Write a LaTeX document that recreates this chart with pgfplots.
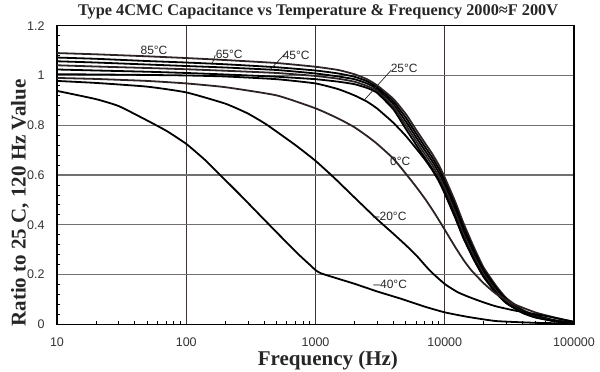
\documentclass[border=0pt]{standalone}
\usepackage{fontspec}
\setmainfont{Liberation Serif}
\newfontfamily\arial{Liberation Sans}
\usepackage{pgfplots}
\pgfplotsset{compat=1.18}
\definecolor{curvec}{RGB}{45,35,35}
\definecolor{xgridc}{RGB}{60,50,50}
\definecolor{ygridc}{RGB}{112,112,112}
\begin{document}
\begin{tikzpicture}
\path[use as bounding box] (-57pt,-47.7pt) rectangle (543pt,324.3pt);
\begin{axis}[
  at={(0,0)}, anchor=south west,
  scale only axis, width=517pt, height=298.6pt,
  xmode=log, xmin=10, xmax=100000, ymin=0, ymax=1.2,
  xtick={10,100,1000,10000,100000},
  xticklabels={10,100,1000,10000,100000},
  minor xtick={20,30,40,50,60,70,80,90,200,300,400,500,600,700,800,900,2000,3000,4000,5000,6000,7000,8000,9000,20000,30000,40000,50000,60000,70000,80000,90000},
  ytick={0,0.2,0.4,0.6,0.8,1,1.2},
  yticklabels={0,0.2,0.4,0.6,0.8,1,1.2},
  minor ytick={0.04,0.08,0.12,0.16,0.24,0.28,0.32,0.36,0.44,0.48,0.52,0.56,0.64,0.68,0.72,0.76,0.84,0.88,0.92,0.96,1.04,1.08,1.12,1.16},
  tick pos=left, tick align=inside,
  major tick length=0pt, minor tick length=3.5pt,
  minor tick style={line width=0.8pt, black},
  xmajorgrids, ymajorgrids,
  x grid style={xgridc, line width=1.1pt},
  y grid style={ygridc, line width=1.1pt},
  axis line style={line width=1.5pt, black},
  ticklabel style={font=\arial\fontsize{12.5}{14}\selectfont, text=black!80},
  xticklabel style={yshift=-10pt},
  yticklabel style={xshift=-9pt},
  clip=false,
  cycle list={{curvec, solid, mark=none}},
  every axis plot/.append style={line width=1.8pt, smooth, tension=0.3},
]
% 85
\addplot coordinates {(10,1.090)(20,1.085)(50,1.077)(100,1.070)(200,1.062)(500,1.050)(1000,1.035)(1500,1.022)(2000,1.005)(2500,0.985)(3000,0.960)(4000,0.906)(5000,0.845)(6000,0.782)(7000,0.730)(8000,0.685)(9000,0.640)(10000,0.590)(12000,0.495)(14000,0.405)(17000,0.304)(20000,0.228)(25000,0.154)(30000,0.105)(40000,0.058)(50000,0.037)(70000,0.017)(100000,0.005)};
% 65
\addplot coordinates {(10,1.072)(20,1.067)(50,1.058)(100,1.052)(200,1.045)(500,1.033)(1000,1.020)(1500,1.008)(2000,0.995)(2500,0.977)(3000,0.952)(4000,0.896)(5000,0.830)(6000,0.767)(7000,0.715)(8000,0.670)(9000,0.625)(10000,0.575)(12000,0.480)(14000,0.390)(17000,0.292)(20000,0.219)(25000,0.147)(30000,0.100)(40000,0.055)(50000,0.034)(70000,0.016)(100000,0.005)};
% 45
\addplot coordinates {(10,1.057)(20,1.052)(50,1.044)(100,1.038)(200,1.032)(500,1.022)(1000,1.008)(1500,0.996)(2000,0.985)(2500,0.968)(3000,0.945)(4000,0.885)(5000,0.815)(6000,0.752)(7000,0.700)(8000,0.655)(9000,0.610)(10000,0.560)(12000,0.465)(14000,0.375)(17000,0.280)(20000,0.210)(25000,0.140)(30000,0.095)(40000,0.052)(50000,0.032)(70000,0.015)(100000,0.005)};
% unlabeled
\addplot coordinates {(10,1.041)(20,1.036)(50,1.030)(100,1.025)(200,1.019)(500,1.010)(1000,0.998)(1500,0.987)(2000,0.975)(2500,0.958)(3000,0.937)(4000,0.874)(5000,0.800)(6000,0.737)(7000,0.685)(8000,0.640)(9000,0.595)(10000,0.545)(12000,0.450)(14000,0.360)(17000,0.268)(20000,0.201)(25000,0.133)(30000,0.090)(40000,0.049)(50000,0.030)(70000,0.014)(100000,0.005)};
\addplot coordinates {(10,1.024)(20,1.020)(50,1.015)(100,1.010)(200,1.004)(500,0.995)(1000,0.985)(1500,0.975)(2000,0.965)(2500,0.950)(3000,0.930)(4000,0.864)(5000,0.785)(6000,0.722)(7000,0.670)(8000,0.625)(9000,0.580)(10000,0.530)(12000,0.435)(14000,0.345)(17000,0.256)(20000,0.192)(25000,0.126)(30000,0.085)(40000,0.046)(50000,0.028)(70000,0.013)(100000,0.005)};
% 25
\addplot coordinates {(10,1.005)(20,1.004)(50,1.002)(100,1.000)(200,0.996)(500,0.985)(1000,0.968)(1500,0.945)(2000,0.920)(2500,0.895)(3000,0.867)(4000,0.810)(5000,0.757)(6000,0.707)(7000,0.663)(8000,0.620)(9000,0.575)(10000,0.525)(12000,0.430)(14000,0.345)(17000,0.255)(20000,0.190)(25000,0.125)(30000,0.085)(40000,0.046)(50000,0.028)(70000,0.013)(100000,0.005)};
% 0
\addplot coordinates {(10,0.990)(20,0.986)(50,0.978)(100,0.968)(200,0.953)(500,0.920)(1000,0.868)(1500,0.827)(2000,0.792)(2500,0.757)(3000,0.725)(4000,0.666)(5000,0.605)(6000,0.553)(7200,0.497)(8500,0.440)(10000,0.380)(12000,0.312)(14000,0.258)(16000,0.218)(20000,0.165)(25000,0.122)(34000,0.082)(50000,0.048)(70000,0.028)(100000,0.010)};
% -20
\addplot coordinates {(10,0.978)(20,0.970)(50,0.955)(100,0.932)(200,0.887)(300,0.847)(420,0.802)(700,0.720)(1000,0.657)(1400,0.588)(2000,0.510)(3000,0.422)(4000,0.364)(5000,0.318)(6000,0.278)(7700,0.215)(10000,0.162)(12500,0.130)(15000,0.112)(20000,0.088)(25000,0.072)(35000,0.055)(50000,0.041)(65000,0.030)(80000,0.020)(100000,0.010)};
% -40
\addplot coordinates {(10,0.938)(20,0.905)(30,0.877)(47,0.826)(70,0.778)(100,0.725)(140,0.660)(183,0.600)(250,0.530)(300,0.488)(420,0.410)(600,0.328)(760,0.275)(900,0.240)(1000,0.218)(1100,0.205)(1500,0.183)(2000,0.163)(3000,0.132)(4500,0.104)(7000,0.071)(10000,0.048)(15000,0.030)(25000,0.013)(50000,0.006)(100000,0.003)};
% labels
\begin{scope}[every node/.style={font=\arial\fontsize{12}{14}\selectfont, text=black!85}]
\node at (axis cs:56.3,1.102) {85°C};
\node at (axis cs:215,1.084) {65°C};
\node at (axis cs:709,1.081) {45°C};
\node at (axis cs:4853,1.028) {25°C};
\node at (axis cs:4519,0.653) {0°C};
\node at (axis cs:3750,0.434) {–20°C};
\node at (axis cs:3785,0.162) {–40°C};
\end{scope}
\draw[curvec, line width=0.7pt] (axis cs:167.5,1.0815) -- (axis cs:159,1.048);
\draw[curvec, line width=0.7pt] (axis cs:583,1.088) -- (axis cs:447,1.024);
\draw[curvec, line width=0.7pt] (axis cs:3846,1.021) -- (axis cs:2383,0.901);
\node[font=\bfseries\fontsize{16.3}{18}\selectfont, text=black!85] at (rel axis cs:0.505,1.0459) {Type 4CMC Capacitance vs Temperature \& Frequency 2000≈F 200V};
\node[rotate=90, font=\bfseries\fontsize{21}{24}\selectfont, text=black!85] at (rel axis cs:-0.0716,0.406) {Ratio to 25 C, 120 Hz Value};
\node[font=\bfseries\fontsize{21}{24}\selectfont, text=black!85] at (rel axis cs:0.524,-0.1196) {Frequency (Hz)};
\end{axis}
\end{tikzpicture}
\end{document}
